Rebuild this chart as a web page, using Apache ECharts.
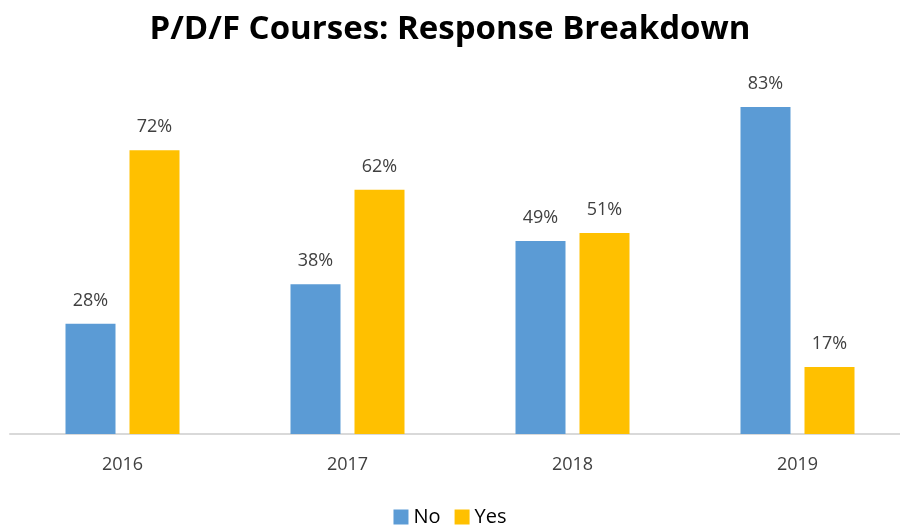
<!DOCTYPE html>
<html>
<head>
<meta charset="utf-8">
<script src="https://cdn.jsdelivr.net/npm/echarts@6/dist/echarts.min.js"></script>
<style>
  html, body { margin: 0; padding: 0; background: #ffffff; }
  #chart { width: 900px; height: 526px; }
</style>
</head>
<body>
<div id="chart"></div>
<script>
var years = ['2016', '2017', '2018', '2019'];
var noValues = [28, 38, 49, 83];
var yesValues = [72, 62, 51, 17];

var chart = echarts.init(document.getElementById('chart'));

var labelStyle = {
  show: true,
  position: 'top',
  distance: 14,
  formatter: '{c}%',
  fontFamily: 'Open Sans',
  fontSize: 18,
  color: '#404040'
};

var option = {
  backgroundColor: '#ffffff',
  title: {
    text: 'P/D/F Courses: Response Breakdown',
    left: 'center',
    top: 8,
    textStyle: {
      fontFamily: 'Open Sans',
      fontWeight: 'bold',
      fontSize: 33,
      color: '#000000'
    }
  },
  legend: {
    bottom: -6,
    left: 'center',
    itemWidth: 15,
    itemHeight: 15,
    itemGap: 14,
    icon: 'rect',
    textStyle: {
      fontFamily: 'Open Sans',
      fontSize: 20,
      color: '#000000'
    },
    data: ['No', 'Yes']
  },
  grid: {
    left: 10,
    width: 900,
    top: 40,
    bottom: 92,
    outerBoundsMode: 'none'
  },
  xAxis: {
    type: 'category',
    data: years,
    axisLine: { lineStyle: { color: '#d9d9d9', width: 2 } },
    axisTick: { show: false },
    axisLabel: {
      margin: 22,
      fontFamily: 'Open Sans',
      fontSize: 18,
      color: '#404040'
    }
  },
  yAxis: {
    type: 'value',
    min: 0,
    max: 100,
    show: false
  },
  series: [{
    name: 'No',
    type: 'bar',
    data: noValues,
    barWidth: 50,
    barGap: '28%',
    itemStyle: { color: '#5b9bd5' },
    label: labelStyle
  }, {
    name: 'Yes',
    type: 'bar',
    data: yesValues,
    barWidth: 50,
    itemStyle: { color: '#ffc000' },
    label: labelStyle
  }]
};

chart.setOption(option);
</script>
</body>
</html>
